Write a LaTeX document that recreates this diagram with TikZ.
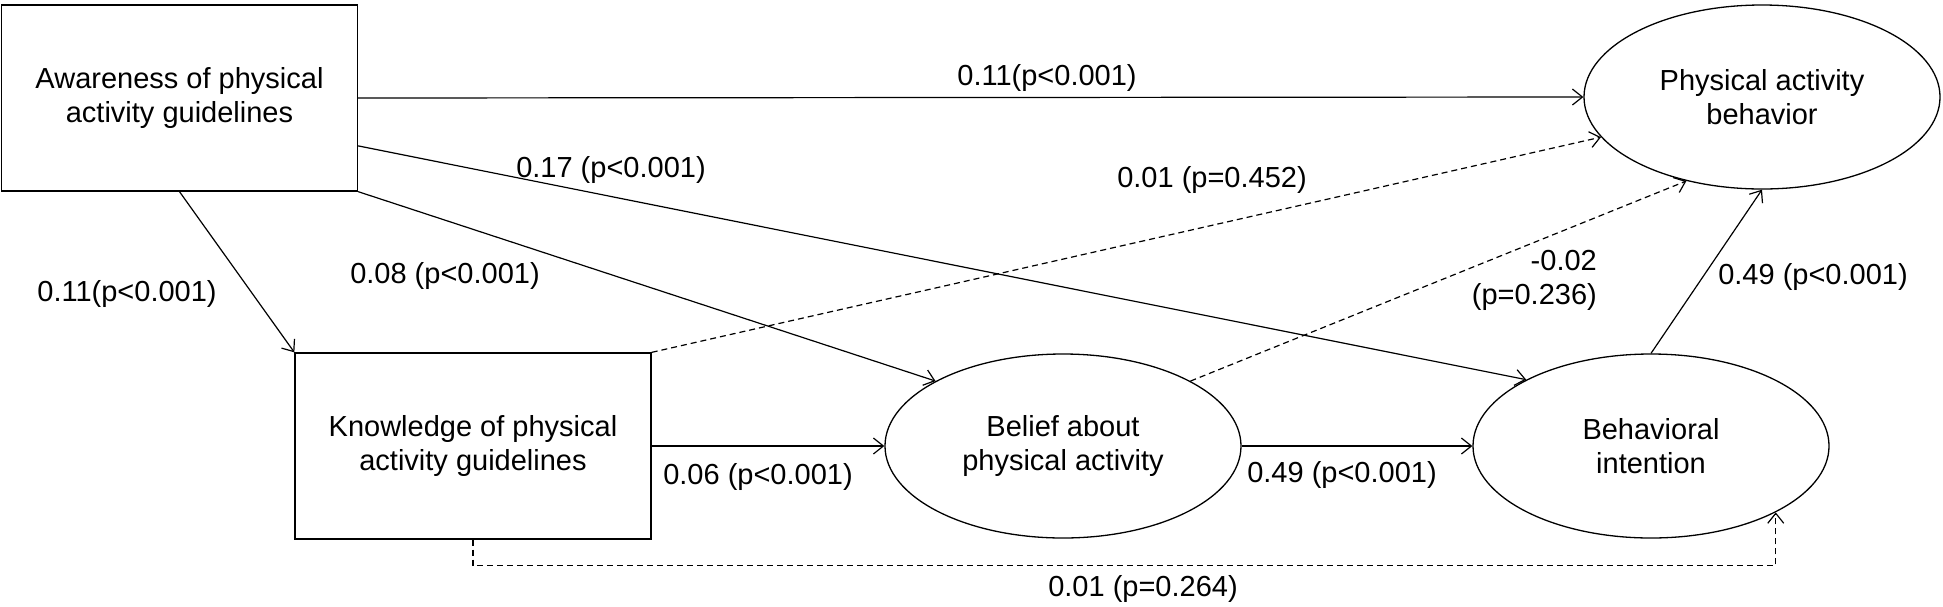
\documentclass[tikz,border=0pt]{standalone}
\usepackage{fontspec}
\setmainfont{Liberation Sans}
\usetikzlibrary{arrows.meta,shapes.geometric}
\begin{document}
\begin{tikzpicture}[x=1pt,y=-1pt,
  font=\fontsize{29}{34}\selectfont,
  box/.style={draw,line width=1.3pt,minimum width=356pt,minimum height=186pt,align=center,inner sep=0pt},
  oval/.style={draw,ellipse,line width=1.3pt,minimum width=356pt,minimum height=184pt,align=center,inner sep=0pt},
  conn/.style={line width=1.2pt,-{Straight Barb[length=10pt,width=16pt]}},
  dconn/.style={conn,dash pattern=on 6pt off 4pt},
  lbl/.style={inner sep=0pt,align=center}]
\useasboundingbox (0,0) rectangle (1943,606);
% nodes
\node[box] (A) at (179.5,98) {Awareness of physical\\activity guidelines};
\node[box] (K) at (473,446) {Knowledge of physical\\activity guidelines};
\node[oval] (PAB) at (1762,97) {Physical activity\\behavior};
\node[oval] (B) at (1063,446) {Belief about\\physical activity};
\node[oval] (BI) at (1651,446) {Behavioral\\intention};
% connectors
\draw[conn] (A.east) -- (PAB.west);
\draw[conn] (A.-15.35) -- (BI.152.7);
\draw[conn] (A.south east) -- (B.153.3);
\draw[conn] (A.south) -- (K.north west);
\draw[dconn] (K.north east) -- (PAB.194);
\draw[dconn] (B.27.6) -- (PAB.228.6);
\draw[conn] (BI.north) -- (PAB.south);
\draw[conn] (K.east) -- (B.west);
\draw[conn] (B.east) -- (BI.west);
\draw[dconn] (K.south) -- ++(0,26) -| (BI.-28);
% labels
\node[lbl] (l1) at (1047,78) {0.11(p<0.001)};
\node[lbl] (l2) at (611,170) {0.17 (p<0.001)};
\node[lbl] (l3) at (445,276) {0.08 (p<0.001)};
\node[lbl] (l4) at (127,294) {0.11(p<0.001)};
\node[lbl] (l5) at (1212,180) {0.01 (p=0.452)};
\node[lbl,align=right,anchor=east] (l6) at (1597,280) {-0.02\\(p=0.236)};
\node[lbl] (l7) at (1813,277) {0.49 (p<0.001)};
\node[lbl] (l8) at (758,477) {0.06 (p<0.001)};
\node[lbl] (l9) at (1342,475) {0.49 (p<0.001)};
\node[lbl] (l10) at (1143,589) {0.01 (p=0.264)};
\end{tikzpicture}
\end{document}
